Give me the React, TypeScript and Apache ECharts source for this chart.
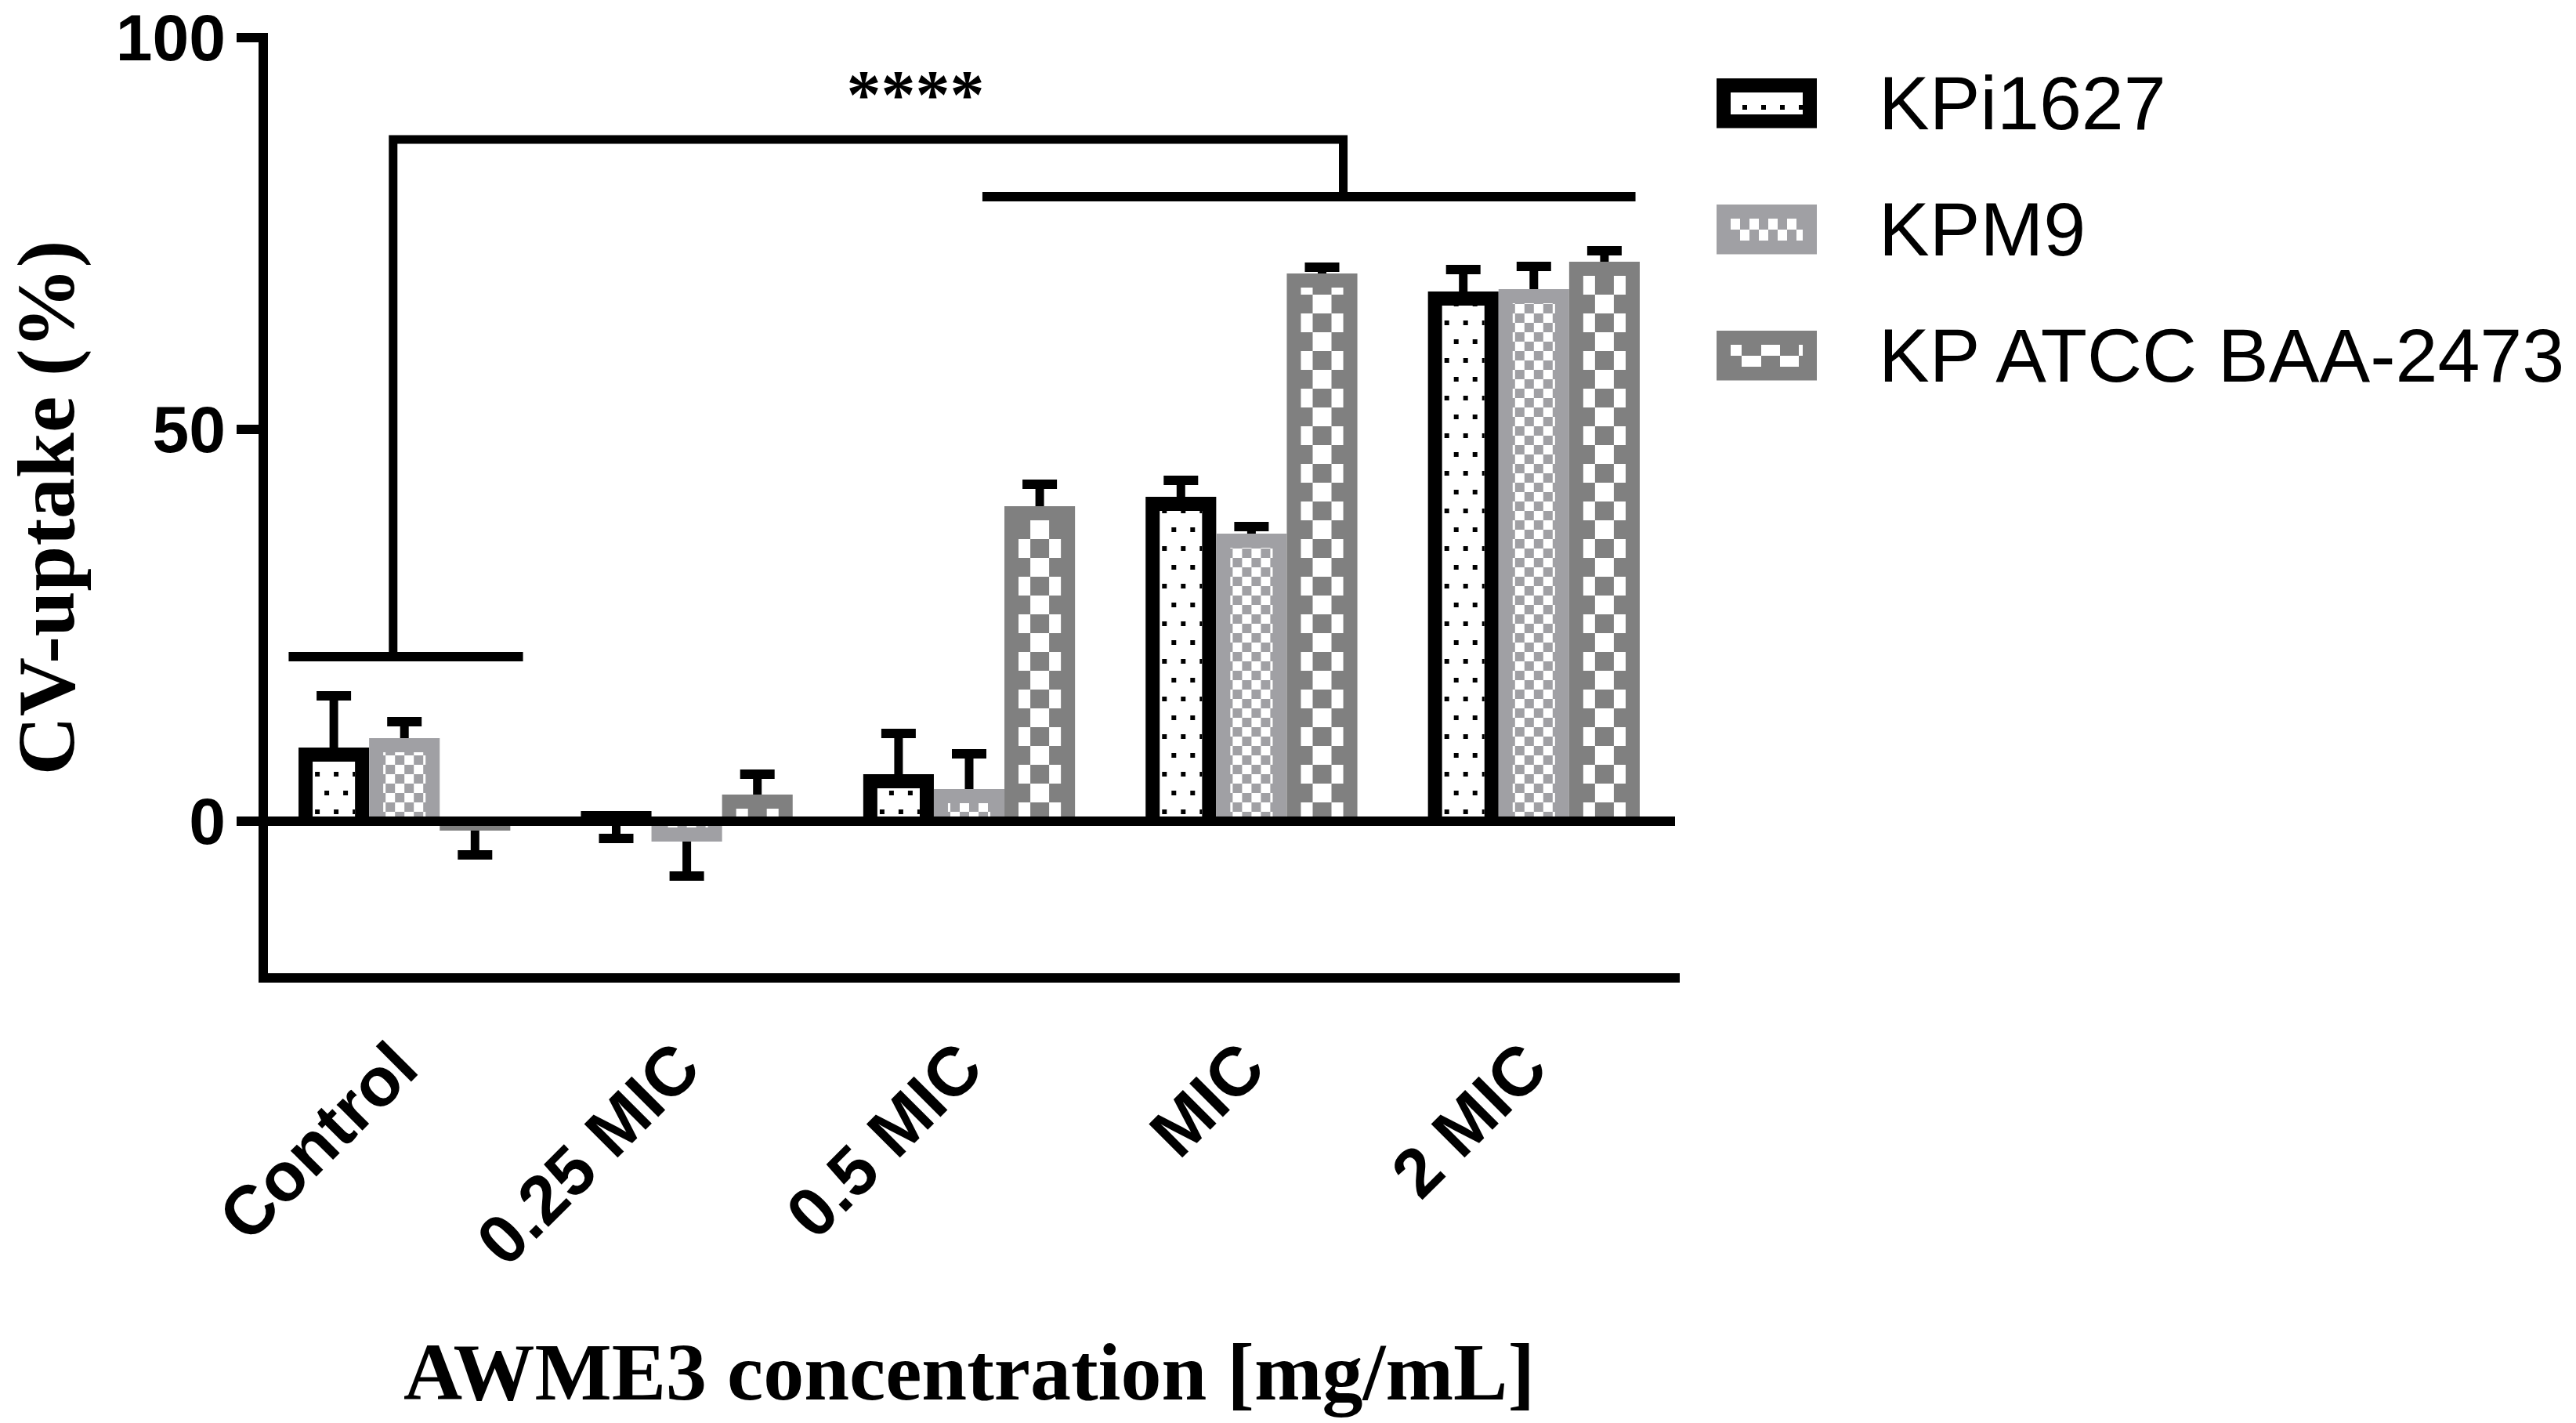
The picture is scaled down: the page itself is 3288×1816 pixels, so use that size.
import React, { useEffect, useRef } from 'react';
import * as echarts from 'echarts';

// ---------------- data ----------------
const categories = ['Control', '0.25 MIC', '0.5 MIC', 'MIC', '2 MIC'];
const seriesNames = ['KPi1627', 'KPM9', 'KP ATCC BAA-2473'];
const kpi1627Mean = [9.4, 1.3, 6.0, 41.4, 67.6];
const kpi1627ErrEnd = [16.0, -2.2, 11.2, 43.5, 70.4];
const kpm9Mean = [10.6, -2.6, 4.1, 36.7, 67.9];
const kpm9ErrEnd = [12.7, -7.0, 8.6, 37.6, 70.8];
const atccMean = [-1.2, 3.4, 40.2, 69.9, 71.4];
const atccErrEnd = [-4.3, 6.0, 43.0, 70.7, 72.8];
const yTickValues = [0, 50, 100];
const yMin = -20;
const yMax = 100;
const xTitle = 'AWME3 concentration [mg/mL]';
const yTitle = 'CV-uptake (%)';
const sigLabel = '****';
// significance brackets: [category index, offset within band (fraction of band), value]
const controlBracket = [[0, -0.41, 21], [0, 0.42, 21]];
const connectorBracket = [[0, -0.04, 21], [0, -0.04, 87], [3, 0.325, 87], [3, 0.325, 79.7]];
const treatedBracket = [[2, 0.047, 79.7], [4, 0.36, 79.7]];
const sigLabelPos = [2, -0.19, 92.8];

// ---------------- styles ----------------
const BAR_FRAC = 0.25;
const BORDER = 18;
const BASE_INSET = 6;
const colors = ['#000000', '#a0a0a4', '#808080'];
const kinds = ['dots', 'fine', 'coarse'];
const SANS = 'Liberation Sans, Arial, sans-serif';
const SERIF = 'Liberation Serif, Times New Roman, serif';

type R = { x0: number; y0: number; x1: number; y1: number };

function clip(ax0: number, ay0: number, ax1: number, ay1: number, r: R) {
  const x0 = Math.max(ax0, r.x0);
  const y0 = Math.max(ay0, r.y0);
  const x1 = Math.min(ax1, r.x1);
  const y1 = Math.min(ay1, r.y1);
  if (x1 <= x0 || y1 <= y0) return null;
  return { x: x0, y: y0, width: x1 - x0, height: y1 - y0 };
}

function patternCells(kind: string, cx: number, baseY: number, dir: number, ir: R) {
  const out: any[] = [];
  if (kind === 'dots') {
    const step = 24;
    const d = 6;
    for (let k = 0; k < 200; k++) {
      const yc = baseY - dir * (12 + step * k);
      if (dir > 0 ? yc + d < ir.y0 : yc - d > ir.y1) break;
      const off = k % 2 ? 12 : 0;
      for (let m = -4; m <= 4; m++) {
        const xc = cx + 3 + off + step * m;
        const c = clip(xc - d / 2, yc - d / 2, xc + d / 2, yc + d / 2, ir);
        if (c) out.push(c);
      }
    }
  } else {
    const s = kind === 'fine' ? 12 : 24;
    const xShift = kind === 'fine' ? 0 : -12;
    for (let k = 0; k < 300; k++) {
      const ya = dir > 0 ? baseY - s * (k + 1) : baseY + s * k;
      const yb = ya + s;
      if (dir > 0 ? yb < ir.y0 : ya > ir.y1) break;
      for (let j = -6; j <= 6; j++) {
        const parity = Math.abs(j + k) % 2;
        const white = kind === 'fine' ? parity === 0 : parity === 1;
        if (!white) continue;
        const xa = cx + xShift + s * j;
        const c = clip(xa, ya, xa + s, yb, ir);
        if (c) out.push(c);
      }
    }
  }
  return out;
}

function makeBarRender(si: number) {
  const color = colors[si];
  const kind = kinds[si];
  return (params: any, api: any) => {
    const cat = api.value(0);
    const v = api.value(1);
    const e = api.value(2);
    const base = api.coord([cat, 0]);
    const top = api.coord([cat, v]);
    const errP = api.coord([cat, e]);
    const band = api.size([1, 0])[0];
    const bw = band * BAR_FRAC;
    const cx = base[0] + (si - 1) * bw;
    const x0 = cx - bw / 2;
    const yA = Math.min(base[1], top[1]);
    const yB = Math.max(base[1], top[1]);
    const children: any[] = [];
    children.push({
      type: 'rect',
      shape: { x: x0, y: yA, width: bw, height: Math.max(yB - yA, 0.01) },
      style: { fill: color },
    });
    const dir = v >= 0 ? 1 : -1;
    const ir: R = {
      x0: x0 + BORDER,
      x1: x0 + bw - BORDER,
      y0: dir > 0 ? top[1] + BORDER : base[1] + BASE_INSET,
      y1: dir > 0 ? base[1] - BASE_INSET : top[1] - BORDER,
    };
    if (ir.y1 > ir.y0) {
      if (kind === 'dots') {
        children.push({
          type: 'rect',
          shape: { x: ir.x0, y: ir.y0, width: ir.x1 - ir.x0, height: ir.y1 - ir.y0 },
          style: { fill: '#ffffff' },
        });
      }
      const cells = patternCells(kind, cx, base[1], dir, ir);
      const cellFill = kind === 'dots' ? '#000000' : '#ffffff';
      cells.forEach((c) => children.push({ type: 'rect', shape: c, style: { fill: cellFill } }));
    }
    // error bar
    const sy0 = Math.min(top[1], errP[1]);
    const sy1 = Math.max(top[1], errP[1]);
    children.push({
      type: 'rect',
      shape: { x: cx - 5.5, y: sy0, width: 11, height: sy1 - sy0 },
      style: { fill: '#000' },
    });
    children.push({
      type: 'rect',
      shape: { x: cx - 22, y: errP[1] - 6, width: 44, height: 12 },
      style: { fill: '#000' },
    });
    return { type: 'group', children };
  };
}

function annotationRender(params: any, api: any) {
  const band = api.size([1, 0])[0];
  const pt = (p: number[]) => {
    const c = api.coord([p[0], p[2]]);
    return [c[0] + p[1] * band, c[1]];
  };
  const z0 = api.coord([0, 0]);
  const zLast = api.coord([categories.length - 1, 0]);
  const children: any[] = [];
  children.push({
    type: 'rect',
    shape: { x: z0[0] - band / 2, y: z0[1] - 6, width: zLast[0] - z0[0] + band, height: 12 },
    style: { fill: '#000' },
  });
  [controlBracket, treatedBracket].forEach((b) => {
    children.push({
      type: 'polyline',
      shape: { points: b.map(pt) },
      style: { stroke: '#000', lineWidth: 12, fill: 'none', lineCap: 'butt', lineJoin: 'miter' },
    });
  });
  children.push({
    type: 'polyline',
    shape: { points: connectorBracket.map(pt) },
    style: { stroke: '#000', lineWidth: 11, fill: 'none', lineCap: 'butt', lineJoin: 'miter' },
  });
  const sp = pt(sigLabelPos);
  children.push({
    type: 'text',
    x: sp[0],
    y: sp[1],
    style: {
      text: sigLabel,
      fontSize: 88,
      fontWeight: 'bold',
      fontFamily: SERIF,
      fill: '#000',
      align: 'center',
      verticalAlign: 'middle',
    },
  });
  return { type: 'group', children };
}

function swatchSvg(si: number) {
  const color = colors[si];
  const kind = kinds[si];
  const W = 128;
  const H = 64;
  const ir: R = { x0: 18, y0: 18, x1: 110, y1: 46 };
  let inner = '';
  const rect = (c: any, f: string) =>
    `<rect x="${c.x}" y="${c.y}" width="${c.width}" height="${c.height}" fill="${f}"/>`;
  if (kind === 'dots') {
    inner += rect({ x: 18, y: 18, width: 92, height: 28 }, '#fff');
    [35.6, 59.6, 83.6, 107.6].forEach((xc) => {
      const c = clip(xc - 3, 34, xc + 3, 40, ir);
      if (c) inner += rect(c, '#000');
    });
  } else if (kind === 'fine') {
    for (let k = 0; k < 2; k++) {
      for (let j = 0; j < 8; j++) {
        if ((j + k) % 2 !== 0) continue;
        const c = clip(18 + 12 * j, 18 + 14 * k, 30 + 12 * j, 32 + 14 * k, ir);
        if (c) inner += rect(c, '#fff');
      }
    }
  } else {
    const xs = [18, 32, 57, 81, 105, 110];
    for (let k = 0; k < 2; k++) {
      for (let j = 0; j < xs.length - 1; j++) {
        if ((j + k) % 2 !== 0) continue;
        inner += rect({ x: xs[j], y: 18 + 14 * k, width: xs[j + 1] - xs[j], height: 14 }, '#fff');
      }
    }
  }
  const svg =
    `<svg xmlns="http://www.w3.org/2000/svg" width="202" height="64" viewBox="0 0 202 64" shape-rendering="crispEdges">` +
    `<rect x="0" y="0" width="${W}" height="${H}" fill="${color}"/>` +
    inner +
    `</svg>`;
  return 'image://data:image/svg+xml;charset=utf-8,' + encodeURIComponent(svg);
}

export default function App() {
  const ref = useRef<HTMLDivElement>(null);
  useEffect(() => {
    if (!ref.current) return;
    const chart = echarts.init(ref.current, undefined, { renderer: 'svg' });
    const means = [kpi1627Mean, kpm9Mean, atccMean];
    const errs = [kpi1627ErrEnd, kpm9ErrEnd, atccErrEnd];
    const axisLineStyle = { color: '#000', width: 12, cap: 'square' };
    const option: any = {
      animation: false,
      backgroundColor: '#ffffff',
      grid: { left: 336, right: 1150, top: 48, bottom: 568, containLabel: false, outerBoundsMode: 'none' },
      legend: {
        orient: 'vertical',
        left: 2186,
        top: 78,
        itemWidth: 202,
        itemHeight: 64,
        itemGap: 64,
        selectedMode: false,
        textStyle: { fontSize: 97, fontFamily: SANS, color: '#000' },
        data: seriesNames.map((n, i) => ({ name: n, icon: swatchSvg(i) })),
      },
      xAxis: {
        type: 'category',
        data: categories,
        axisLine: { onZero: false, lineStyle: axisLineStyle },
        axisTick: { alignWithLabel: true, length: 34, lineStyle: { color: '#000', width: 12 } },
        axisLabel: {
          interval: 0,
          rotate: 45,
          margin: 98,
          fontSize: 88,
          fontWeight: 'bold',
          fontFamily: SANS,
          color: '#000',
        },
        splitLine: { show: false },
        name: xTitle,
        nameLocation: 'middle',
        nameGap: 450,
        nameTextStyle: { fontSize: 104, fontWeight: 'bold', fontFamily: SERIF, color: '#000' },
      },
      yAxis: {
        type: 'value',
        min: yMin,
        max: yMax,
        axisLine: { show: true, lineStyle: axisLineStyle },
        axisTick: { show: true, length: 34, lineStyle: { color: '#000', width: 12 }, customValues: yTickValues },
        axisLabel: {
          customValues: yTickValues,
          margin: 48,
          fontSize: 84,
          lineHeight: 64,
          fontWeight: 'bold',
          fontFamily: SANS,
          color: '#000',
        },
        splitLine: { show: false },
        name: yTitle,
        nameLocation: 'middle',
        nameGap: 238,
        nameTextStyle: { fontSize: 104, lineHeight: 80, fontWeight: 'bold', fontFamily: SERIF, color: '#000' },
      },
      series: [
        ...seriesNames.map((n, si) => ({
          type: 'custom',
          name: n,
          silent: true,
          itemStyle: { color: colors[si] },
          renderItem: makeBarRender(si),
          encode: { x: 0, y: [1, 2] },
          data: categories.map((_, i) => [i, means[si][i], errs[si][i]]),
        })),
        {
          type: 'custom',
          name: 'annotations',
          silent: true,
          renderItem: annotationRender,
          encode: { x: 0, y: 1 },
          data: [[0, 0]],
        },
      ],
    };
    chart.setOption(option);
    return () => chart.dispose();
  }, []);
  return (
    <div
      ref={ref}
      style={{ position: 'fixed', left: 0, top: 0, width: 3288, height: 1816, background: '#fff' }}
    />
  );
}
